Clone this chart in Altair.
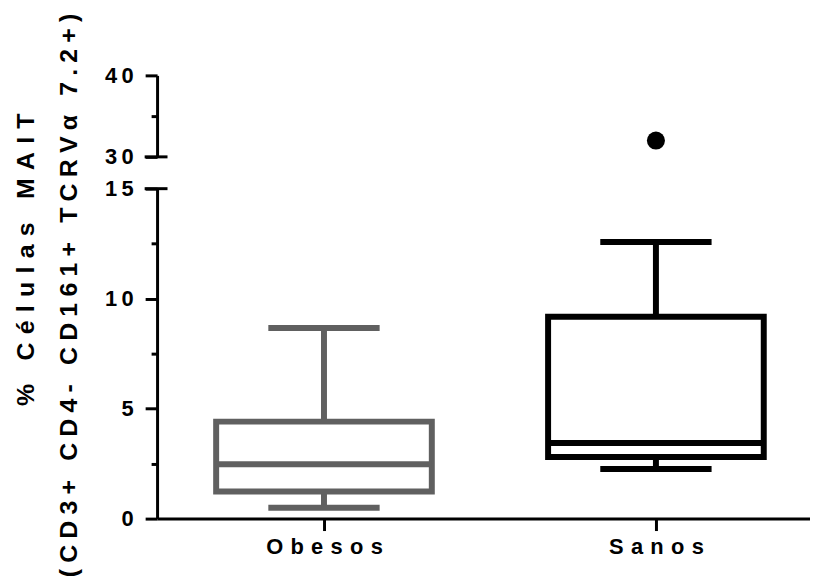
import altair as alt
import pandas as pd

groups = ["Obesos", "Sanos"]
mins = [0.49, 2.26]
q1s = [1.23, 2.80]
medians = [2.47, 3.44]
q3s = [4.41, 9.18]
maxs = [8.67, 12.58]
colors = ["#606060", "#000000"]

outlier_group = ["Sanos"]
outlier_value = [32.0]

title_line1 = "% Células MAIT"
title_line2 = "(CD3+ CD4- CD161+ TCRVα 7.2+)"

SEP1 = "\u2004"
SEP2 = "\u2005"
SEPX = "\u2004"
SEPY = "\u2009"

FONT = "Liberation Sans"

df = pd.DataFrame({"g": groups, "lo": mins, "q1": q1s, "med": medians, "q3": q3s, "hi": maxs})
out = pd.DataFrame({"g": outlier_group, "v": outlier_value})

W = 657
xscale = alt.Scale(type="point", domain=groups, padding=0.4835, align=0.52)
cscale = alt.Scale(domain=groups, range=colors)
col = alt.Color("g:N", scale=cscale, legend=None)

lab_expr_lo = "datum.value % 5 == 0 ? join(split(datum.label, ''), '" + SEPY + "') : ''"
lab_expr_hi = "datum.value == 35 ? '' : join(split(datum.label, ''), '" + SEPY + "')"

common_y = dict(
    tickWidth=3, tickColor="black", domainWidth=3, domainColor="black",
    labelFont=FONT, labelFontSize=22, labelFontWeight="bold", labelColor="black",
    labelPadding=12, grid=False,
    titleFont=FONT, titleFontSize=25, titleFontWeight="bold", titleColor="black",
    titleAngle=-90, titleAlign="center", titleBaseline="alphabetic",
)

y_lo_axis = alt.Axis(
    values=[0, 2.5, 5, 7.5, 10, 12.5, 15], labelExpr=lab_expr_lo,
    tickSize={"expr": "datum.value % 5 == 0 ? 12 : 6"},
    title=SEP2.join(list(title_line2)), titleX=-81, titleY=107,
    **common_y,
)
y_hi_axis = alt.Axis(
    values=[30, 35, 40], labelExpr=lab_expr_hi,
    tickSize={"expr": "datum.value == 35 ? 6 : 12"},
    title=SEP1.join(list(title_line1)), titleX=-124, titleY=185,
    **common_y,
)
x_axis = alt.Axis(
    title=None, labelExpr="join(split(datum.label, ''), '" + SEPX + "')",
    labelFont=FONT, labelFontSize=22, labelFontWeight="bold", labelColor="black",
    labelAngle=0, labelPadding=6, tickSize=12, tickWidth=3, tickColor="black",
    domainWidth=3, domainColor="black",
)

y_lo = alt.Scale(domain=[0, 15], nice=False, zero=False)
y_hi = alt.Scale(domain=[30, 40], nice=False, zero=False)

base = alt.Chart(df)
X = alt.X("g:N", scale=xscale, axis=x_axis, sort=groups)

whisk = base.mark_rule(strokeWidth=6).encode(
    x=X, y=alt.Y("lo:Q", scale=y_lo, axis=y_lo_axis), y2="hi:Q", color=col)
box = base.mark_bar(size=217, fill="white", strokeWidth=6).encode(
    x=X, y="q1:Q", y2="q3:Q", stroke=alt.Stroke("g:N", scale=cscale, legend=None))
med = base.mark_tick(size=217, thickness=6, opacity=1).encode(x=X, y="med:Q", color=col)
cap_lo = base.mark_tick(size=112, thickness=6, opacity=1).encode(x=X, y="lo:Q", color=col)
cap_hi = base.mark_tick(size=112, thickness=6, opacity=1).encode(x=X, y="hi:Q", color=col)
brk_lo = alt.Chart(pd.DataFrame({"v": [15]})).mark_tick(size=23, thickness=3, color="black", opacity=1).encode(
    y=alt.Y("v:Q", scale=y_lo), x=alt.value(-1))

lower = alt.layer(whisk, box, med, cap_lo, cap_hi, brk_lo).properties(width=W, height=332)

Xh = alt.X("g:N", scale=xscale, axis=None, sort=groups)
pt = alt.Chart(out).mark_circle(size=330, opacity=1).encode(
    x=Xh, y=alt.Y("v:Q", scale=y_hi, axis=y_hi_axis), color=col)
brk_hi = alt.Chart(pd.DataFrame({"v": [30]})).mark_tick(size=23, thickness=3, color="black", opacity=1).encode(
    y=alt.Y("v:Q", scale=y_hi), x=alt.value(-1))
upper = alt.layer(pt, brk_hi).properties(width=W, height=82)

chart = alt.vconcat(upper, lower, spacing=32, bounds="flush").properties(
    padding={"left": 5, "top": 3, "right": 0, "bottom": 5}
).configure_view(stroke=None)

chart.save("out.html", embed_options={"renderer": "svg", "actions": False})
